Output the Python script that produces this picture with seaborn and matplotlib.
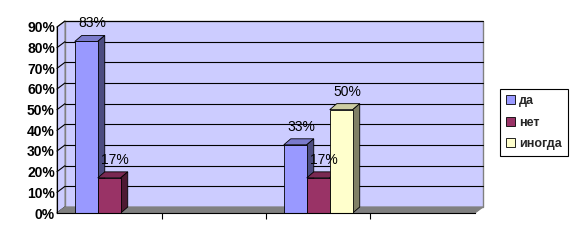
import numpy as np
import pandas as pd
import matplotlib
matplotlib.use("Agg")
import matplotlib.pyplot as plt
import seaborn as sns
from matplotlib.patches import Polygon, Rectangle, Patch
from matplotlib.transforms import offset_copy, IdentityTransform
from matplotlib.colors import to_rgba

# ---- data ----
categories = ["1", "2", "3", "4"]
series = ["да", "нет", "иногда"]
da = [83, None, 33, None]
net = [17, None, 17, None]
inogda = [None, None, 50, None]
yticks = [0, 10, 20, 30, 40, 50, 60, 70, 80, 90]
ytick_labels = [f"{v}%" for v in yticks]

front_colors = ["#9999FF", "#993366", "#FFFFCC"]
top_colors = ["#7A7ACC", "#7A2952", "#CCCCA3"]
side_colors = ["#4C4C80", "#4D1A33", "#808066"]

rows = []
for s, vals in zip(series, [da, net, inogda]):
    for c, v in zip(categories, vals):
        if v is not None:
            rows.append({"cat": c, "series": s, "val": v})
df = pd.DataFrame(rows)

sns.set_theme(style="white")
plt.rcParams["font.family"] = ["Liberation Sans", "DejaVu Sans"]

W, H = 577, 243
fig = plt.figure(figsize=(W / 100, H / 100), dpi=100)
ax = fig.add_axes([57 / W, 30 / H, 418 / W, 186 / H])

sns.barplot(data=df, x="cat", y="val", hue="series", order=categories,
            hue_order=series, palette=front_colors, width=0.66,
            edgecolor="black", linewidth=0.6, saturation=1, legend=False, ax=ax)
bars = [p for p in ax.patches if np.isfinite(p.get_height()) and p.get_height() > 0]

ax.set_xlim(-0.5, 3.5)
ax.set_ylim(0, 90)
ax.patch.set_visible(False)
ax.set_xlabel("")
ax.set_ylabel("")

# depth offsets (pixels)
wdx, wdy = 8, 6
bdx, bdy = 7, 6

wall_tr = offset_copy(ax.transData, fig=fig, x=wdx, y=wdy, units="dots")
# back wall
ax.add_patch(Rectangle((-0.5, 0), 4, 90, transform=wall_tr, facecolor="#CCCCFF",
                       edgecolor="#808080", linewidth=1.0, clip_on=False, zorder=0.5))
T = ax.transData.transform
# side wall
fl0 = T((-0.5, 0)); fl1 = T((-0.5, 90))
ax.add_patch(Polygon([fl0, fl1, (fl1[0] + wdx, fl1[1] + wdy), (fl0[0] + wdx, fl0[1] + wdy)],
                     closed=True, transform=IdentityTransform(), facecolor="#CCCCFF",
                     edgecolor="#808080", linewidth=0.8, clip_on=False, zorder=0.6))
# floor
fr0 = T((3.5, 0))
ax.add_patch(Polygon([fl0, fr0, (fr0[0] + wdx, fr0[1] + wdy), (fl0[0] + wdx, fl0[1] + wdy)],
                     closed=True, transform=IdentityTransform(), facecolor="#808080",
                     edgecolor="#808080", linewidth=0.8, clip_on=False, zorder=1))
# gridlines on back wall and side wall
for y in yticks:
    if y > 0:
        ax.plot([-0.5, 3.5], [y, y], transform=wall_tr, color="black", lw=0.8,
                clip_on=False, zorder=0.7)
    p = T((-0.5, y))
    ax.plot([p[0], p[0] + wdx], [p[1], p[1] + wdy], transform=IdentityTransform(),
            color="black", lw=0.8, clip_on=False, zorder=0.7)

# 3D faces of bars
bars_sorted = sorted(bars, key=lambda p: p.get_x())
for i, p in enumerate(bars_sorted):
    fc = p.get_facecolor()
    idx = int(np.argmin([np.sum(np.abs(np.array(fc) - np.array(to_rgba(c)))) for c in front_colors]))
    x0, y0 = T((p.get_x(), 0))
    x1, y1 = T((p.get_x() + p.get_width(), p.get_height()))
    z = 3 + i * 0.1
    ax.add_patch(Polygon([(x0, y1), (x1, y1), (x1 + bdx, y1 + bdy), (x0 + bdx, y1 + bdy)],
                         closed=True, transform=IdentityTransform(), facecolor=top_colors[idx],
                         edgecolor="black", linewidth=0.6, clip_on=False, zorder=z))
    ax.add_patch(Polygon([(x1, y0), (x1, y1), (x1 + bdx, y1 + bdy), (x1 + bdx, y0 + bdy)],
                         closed=True, transform=IdentityTransform(), facecolor=side_colors[idx],
                         edgecolor="black", linewidth=0.6, clip_on=False, zorder=z))
    p.set_zorder(z + 0.05)
    ax.annotate(f"{p.get_height():.0f}%", xy=(p.get_x() + p.get_width() / 2, p.get_height()),
                xytext=(6, 18), textcoords="offset pixels", ha="center", va="center",
                fontsize=10, color="black", zorder=10)

# axes styling
for s in ["top", "right"]:
    ax.spines[s].set_visible(False)
for s in ["left", "bottom"]:
    ax.spines[s].set_color("black")
    ax.spines[s].set_linewidth(0.8)
    ax.spines[s].set_zorder(5)
ax.set_yticks(yticks)
ax.set_yticklabels(ytick_labels, fontsize=10, fontweight="bold")
ax.tick_params(axis="y", length=0, pad=1.5, colors="black")
ax.set_xticks([0, 1, 2, 3])
ax.set_xticklabels([])
ax.tick_params(axis="x", which="major", length=0)
ax.set_xticks([0.5, 1.5, 2.5], minor=True)
ax.tick_params(axis="x", which="minor", length=4, width=0.8, direction="out",
               color="black", bottom=True)

# legend
handles = [Patch(facecolor=c, edgecolor="black", linewidth=0.6) for c in front_colors]
leg = fig.legend(handles, series, loc="upper left", bbox_to_anchor=(500 / W, 1 - 89 / H),
                 frameon=True, fancybox=False, framealpha=1, edgecolor="black",
                 prop={"size": 9, "weight": "bold"}, handlelength=0.7, handleheight=0.7,
                 handletextpad=0.3, labelspacing=0.75, borderpad=0.5, borderaxespad=0)
leg.get_frame().set_linewidth(0.8)

fig.savefig("out.png", dpi=100)
